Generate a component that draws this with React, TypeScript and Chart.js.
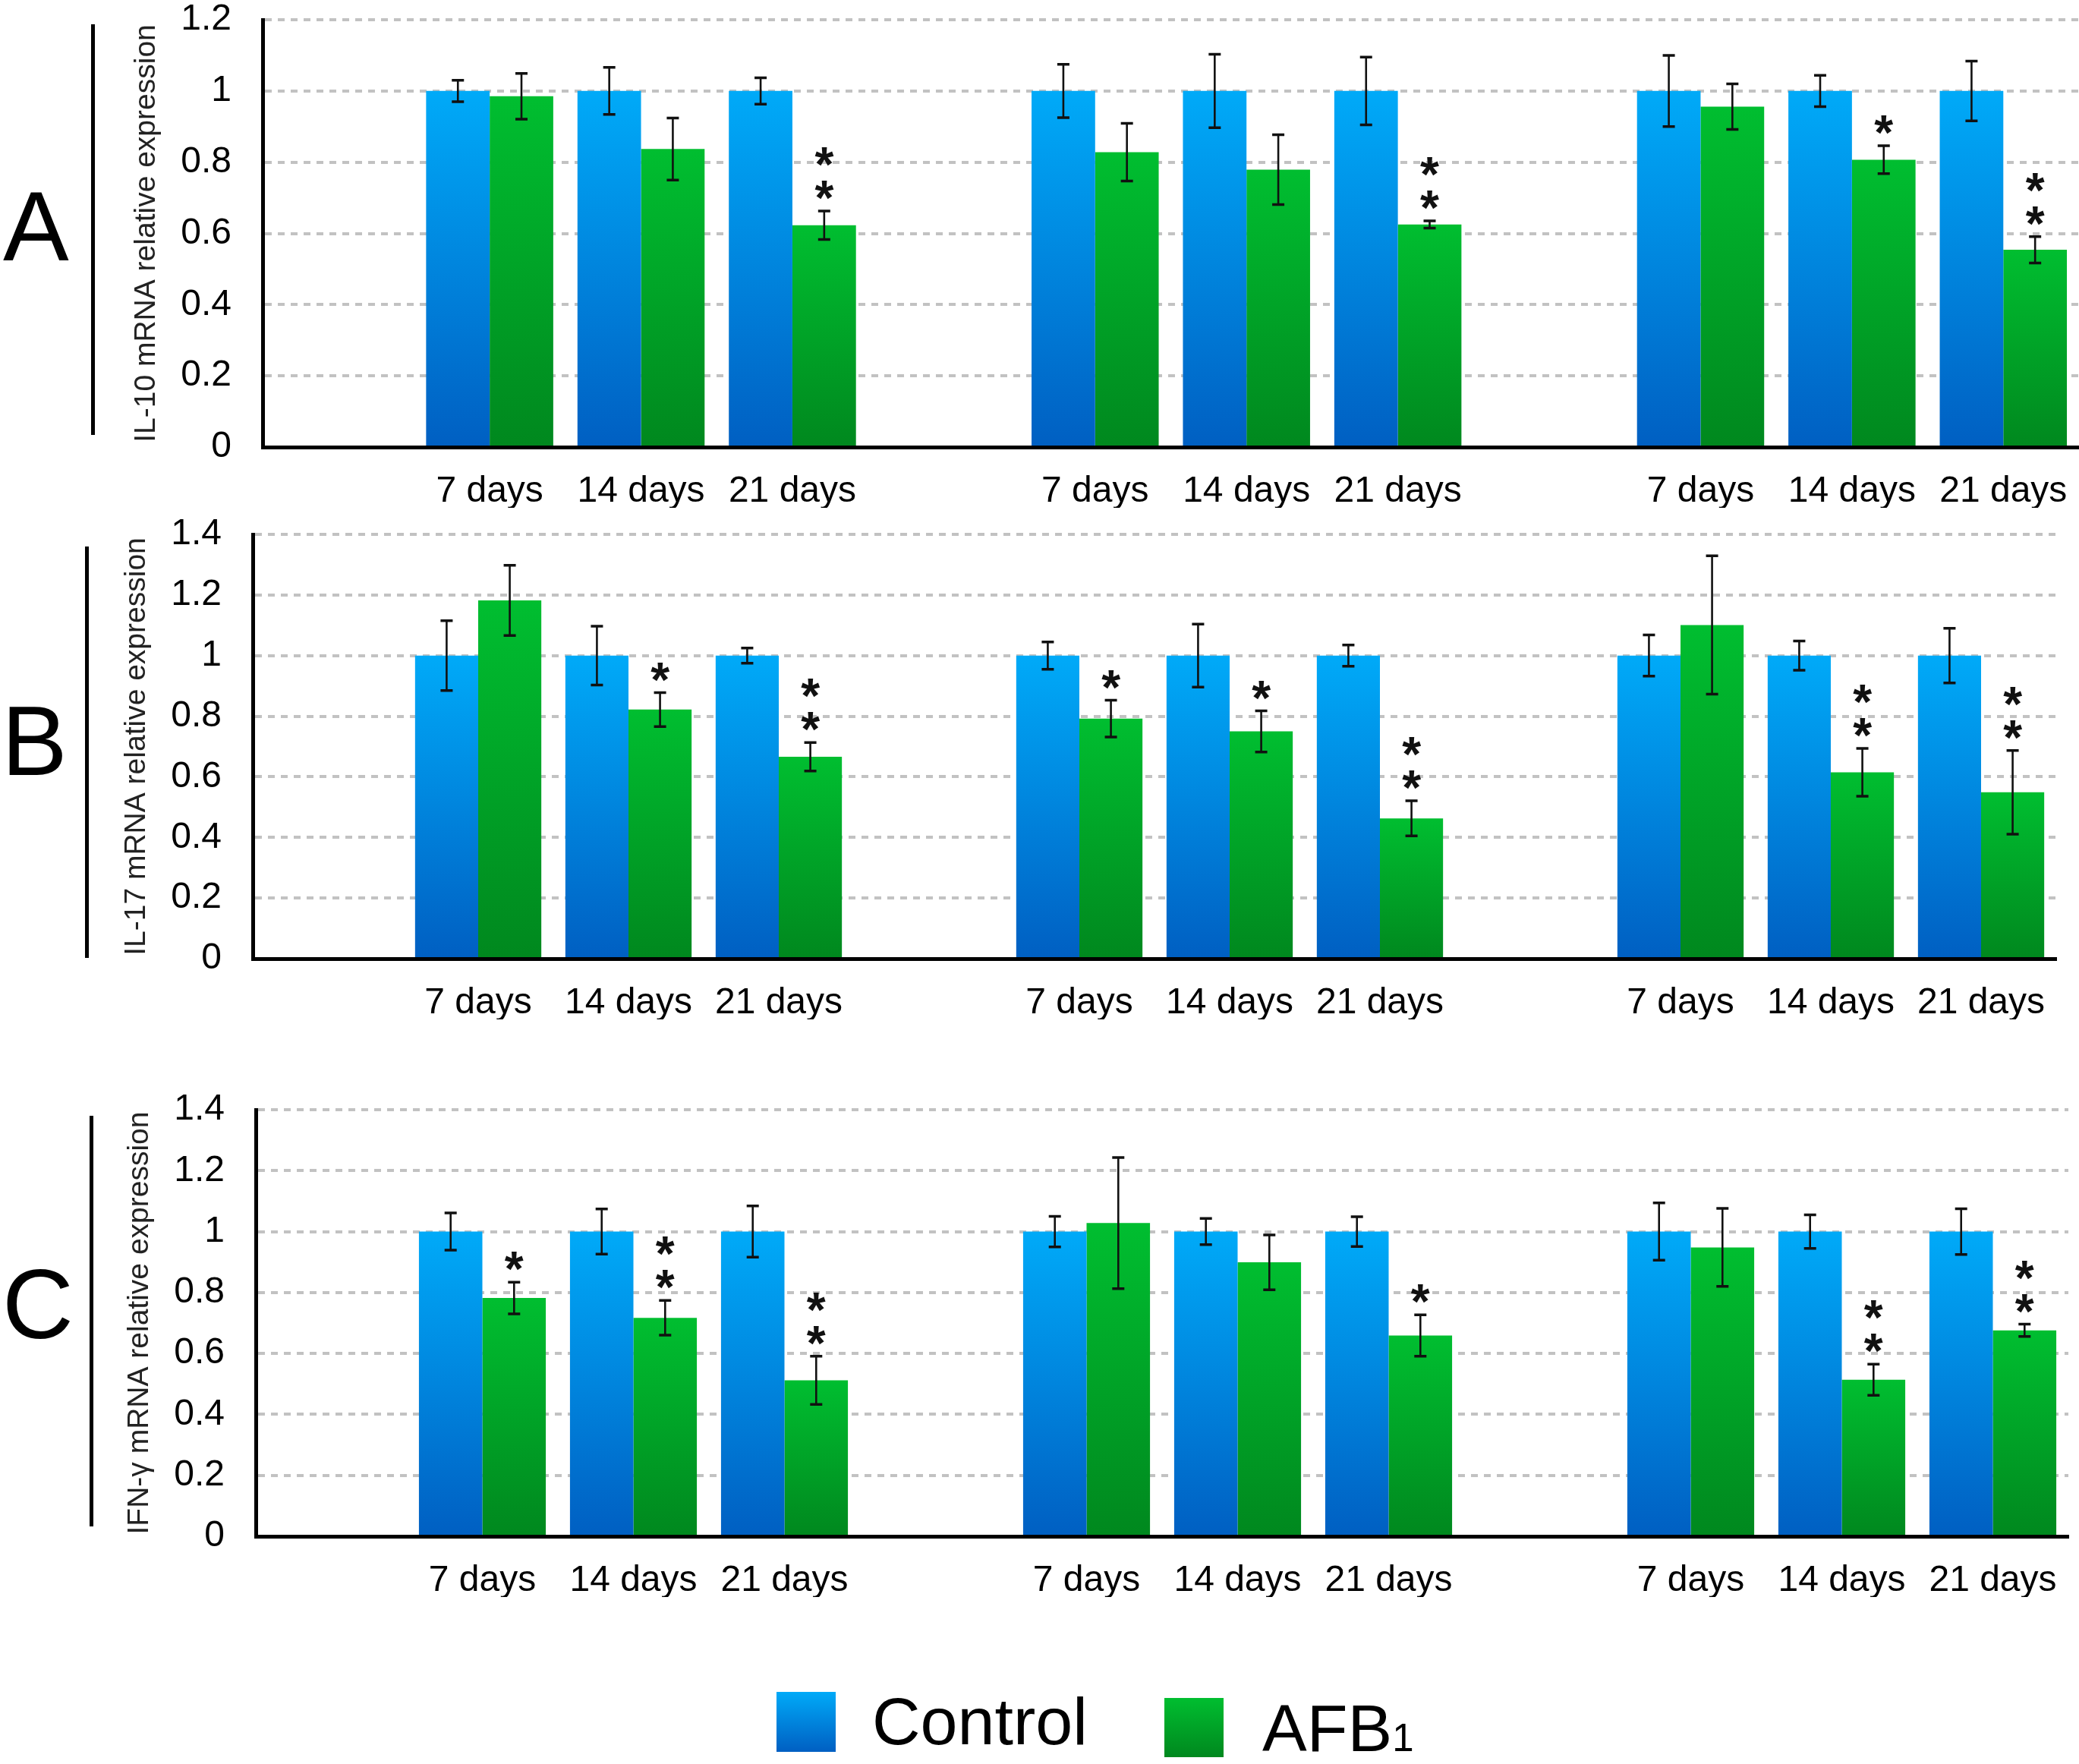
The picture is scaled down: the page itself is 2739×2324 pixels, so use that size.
import React, { useEffect, useRef } from "react";
import { Chart, registerables } from "chart.js";

Chart.register(...registerables);

const FONT = '"Liberation Sans", Arial, Helvetica, sans-serif';

// ---------- data ----------
const categories = ["", "7 days", "14 days", "21 days", "", "7 days", "14 days", "21 days", "", "7 days", "14 days", "21 days"];
const seriesNames = ["Control", "AFB1"];

// Panel A: IL-10
const controlA = [null, 1, 1, 1, null, 1, 1, 1, null, 1, 1, 1];
const controlErrA = [null, 0.03, 0.066, 0.037, null, 0.075, 0.103, 0.095, null, 0.1, 0.044, 0.084];
const afbA = [null, 0.985, 0.837, 0.623, null, 0.828, 0.779, 0.625, null, 0.956, 0.807, 0.554];
const afbErrA = [null, 0.064, 0.087, 0.04, null, 0.081, 0.098, 0.01, null, 0.064, 0.039, 0.037];
const sigA = ["", "", "", "**", "", "", "", "**", "", "", "*", "**"];

// Panel B: IL-17
const controlB = [null, 1, 1, 1, null, 1, 1, 1, null, 1, 1, 1];
const controlErrB = [null, 0.115, 0.097, 0.025, null, 0.045, 0.104, 0.035, null, 0.068, 0.048, 0.09];
const afbB = [null, 1.182, 0.822, 0.666, null, 0.792, 0.75, 0.463, null, 1.101, 0.615, 0.549];
const afbErrB = [null, 0.116, 0.056, 0.047, null, 0.061, 0.068, 0.058, null, 0.228, 0.079, 0.138];
const sigB = ["", "", "*", "**", "", "*", "*", "**", "", "", "**", "**"];

// Panel C: IFN-γ
const controlC = [null, 1, 1, 1, null, 1, 1, 1, null, 1, 1, 1];
const controlErrC = [null, 0.061, 0.074, 0.084, null, 0.05, 0.043, 0.049, null, 0.094, 0.055, 0.075];
const afbC = [null, 0.782, 0.717, 0.512, null, 1.028, 0.899, 0.659, null, 0.948, 0.514, 0.676];
const afbErrC = [null, 0.052, 0.057, 0.079, null, 0.215, 0.09, 0.068, null, 0.128, 0.051, 0.02];
const sigC = ["", "*", "**", "**", "", "", "", "*", "", "", "**", "**"];

const yTitles = ["IL-10 mRNA relative expression", "IL-17 mRNA relative expression", "IFN-γ mRNA relative expression"];
const yMaxes = [1.2, 1.4, 1.4];
const panelLetters = ["A", "B", "C"];

// ---------- styling ----------
const BLUE_TOP = "#00aaf8";
const BLUE_BOTTOM = "#005fc2";
const GREEN_TOP = "#00be30";
const GREEN_BOTTOM = "#00881e";

type Layout = { top: number; height: number; pad: { left: number; right: number; top: number; bottom: number } };

const layouts: Layout[] = [
  { top: 0, height: 680, pad: { left: 140, right: 0, top: 26, bottom: 11 } },
  { top: 680, height: 700, pad: { left: 127, right: 30, top: 24, bottom: 37 } },
  { top: 1440, height: 700, pad: { left: 131, right: 14, top: 22, bottom: 36 } },
];

const panelData = [
  { control: controlA, controlErr: controlErrA, afb: afbA, afbErr: afbErrA, sig: sigA },
  { control: controlB, controlErr: controlErrB, afb: afbB, afbErr: afbErrB, sig: sigB },
  { control: controlC, controlErr: controlErrC, afb: afbC, afbErr: afbErrC, sig: sigC },
];

const gradient = (top: string, bottom: string) => (ctx: any) => {
  const chart = ctx.chart;
  const area = chart.chartArea;
  if (!area || ctx.type !== "data" || ctx.raw == null || !chart.scales.y) return top;
  const y = chart.scales.y.getPixelForValue(ctx.raw);
  const g = chart.ctx.createLinearGradient(0, y, 0, area.bottom);
  g.addColorStop(0, top);
  g.addColorStop(1, bottom);
  return g;
};

const STAR_SIZE = 64;

function Panel({ index }: { index: number }) {
  const ref = useRef<HTMLCanvasElement | null>(null);
  const lay = layouts[index];
  useEffect(() => {
    if (!ref.current) return;
    const d = panelData[index];
    const errs = [d.controlErr, d.afbErr];
    const errorPlugin = {
      id: "errorBars" + index,
      afterDatasetsDraw(chart: any) {
        const { ctx } = chart;
        const y = chart.scales.y;
        ctx.save();
        ctx.strokeStyle = "#111";
        chart.data.datasets.forEach((ds: any, i: number) => {
          const meta = chart.getDatasetMeta(i);
          meta.data.forEach((bar: any, j: number) => {
            const v = ds.data[j];
            const e = errs[i][j];
            if (v == null || e == null) return;
            const x = bar.x;
            const yt = y.getPixelForValue(v + e);
            const yb = y.getPixelForValue(v - e);
            ctx.lineWidth = 2.6;
            ctx.beginPath();
            ctx.moveTo(x, yt);
            ctx.lineTo(x, yb);
            ctx.stroke();
            ctx.lineWidth = 3.5;
            ctx.beginPath();
            ctx.moveTo(x - 8, yt);
            ctx.lineTo(x + 8, yt);
            ctx.moveTo(x - 8, yb);
            ctx.lineTo(x + 8, yb);
            ctx.stroke();
            if (i === 1 && d.sig[j]) {
              ctx.fillStyle = "#111";
              ctx.font = `bold ${STAR_SIZE}px ${FONT}`;
              ctx.textAlign = "center";
              ctx.textBaseline = "alphabetic";
              const n = d.sig[j].length;
              for (let k = 0; k < n; k++) {
                const cy = yt - 30 - k * 44;
                ctx.fillText("*", x, cy + 0.58 * STAR_SIZE - 2);
              }
            }
          });
        });
        ctx.restore();
      },
    };
    const chart = new Chart(ref.current, {
      type: "bar",
      data: {
        labels: categories,
        datasets: [
          {
            label: seriesNames[0],
            data: d.control as any,
            backgroundColor: gradient(BLUE_TOP, BLUE_BOTTOM),
            borderWidth: 0,
            categoryPercentage: 0.84,
            barPercentage: 1.0,
          },
          {
            label: seriesNames[1],
            data: d.afb as any,
            backgroundColor: gradient(GREEN_TOP, GREEN_BOTTOM),
            borderWidth: 0,
            categoryPercentage: 0.84,
            barPercentage: 1.0,
          },
        ],
      },
      options: {
        animation: false,
        responsive: false,
        devicePixelRatio: 1,
        layout: { padding: lay.pad },
        plugins: { legend: { display: false }, tooltip: { enabled: false } },
        scales: {
          x: {
            offset: true,
            grid: { display: false, drawTicks: false },
            border: { display: true, color: "#000", width: 5 },
            ticks: {
              padding: 30,
              color: "#000",
              font: { family: FONT, size: 48 },
              autoSkip: false,
              maxRotation: 0,
            },
            afterFit: (s: any) => {
              s.height = 80;
              s.paddingLeft = 0;
              s.paddingRight = 0;
            },
          },
          y: {
            min: 0,
            max: yMaxes[index],
            ticks: {
              stepSize: 0.2,
              padding: 41,
              color: "#000",
              font: { family: FONT, size: 48 },
              callback: (v: any) => String(Number(Number(v).toFixed(1))),
            },
            grid: { color: "#c2c2c2", lineWidth: 4, drawTicks: false },
            border: { display: true, color: "#000", width: 5, dash: [9, 8] },
            title: {
              display: true,
              text: yTitles[index],
              color: "#222",
              font: { family: FONT, size: 39 },
              padding: { top: 29.5, bottom: 0 },
            },
            afterFit: (s: any) => {
              s.width = 206;
              s.paddingTop = 0;
              s.paddingBottom = 0;
            },
          },
        },
      },
      plugins: [errorPlugin],
    } as any);
    return () => chart.destroy();
  }, [index]);
  return (
    <canvas
      ref={ref}
      width={2739}
      height={lay.height}
      style={{ position: "absolute", left: 0, top: lay.top, width: 2739, height: lay.height }}
    />
  );
}

const letterPos = [
  { left: 4, top: 233 },
  { left: 2, top: 911 },
  { left: 3, top: 1653 },
];
const barPos = [
  { left: 120, top: 32, height: 541 },
  { left: 112, top: 720, height: 542 },
  { left: 118, top: 1470, height: 541 },
];

export default function App() {
  return (
    <div
      style={{
        position: "absolute",
        left: 0,
        top: 0,
        width: 2739,
        height: 2324,
        background: "#fff",
        overflow: "hidden",
        fontFamily: FONT,
      }}
    >
      {[0, 1, 2].map((i) => (
        <Panel key={i} index={i} />
      ))}
      {panelLetters.map((L, i) => (
        <div
          key={L}
          style={{
            position: "absolute",
            left: letterPos[i].left,
            top: letterPos[i].top,
            fontSize: 130,
            lineHeight: "130px",
            color: "#000",
          }}
        >
          {L}
        </div>
      ))}
      {barPos.map((b, i) => (
        <div
          key={"bar" + i}
          style={{ position: "absolute", left: b.left, top: b.top, width: 5, height: b.height, background: "#000" }}
        />
      ))}
      {/* legend */}
      <div
        style={{
          position: "absolute",
          left: 1023,
          top: 2229,
          width: 78,
          height: 79,
          background: `linear-gradient(${BLUE_TOP}, ${BLUE_BOTTOM})`,
        }}
      />
      <div style={{ position: "absolute", left: 1149, top: 2223.5, fontSize: 88, lineHeight: "88px", color: "#000" }}>
        {seriesNames[0]}
      </div>
      <div
        style={{
          position: "absolute",
          left: 1534,
          top: 2237,
          width: 78,
          height: 78,
          background: `linear-gradient(${GREEN_TOP}, ${GREEN_BOTTOM})`,
        }}
      />
      <div style={{ position: "absolute", left: 1663, top: 2232.5, fontSize: 88, lineHeight: "88px", color: "#000", whiteSpace: "nowrap" }}>
        AFB<span style={{ fontSize: 51 }}>1</span>
      </div>
    </div>
  );
}
